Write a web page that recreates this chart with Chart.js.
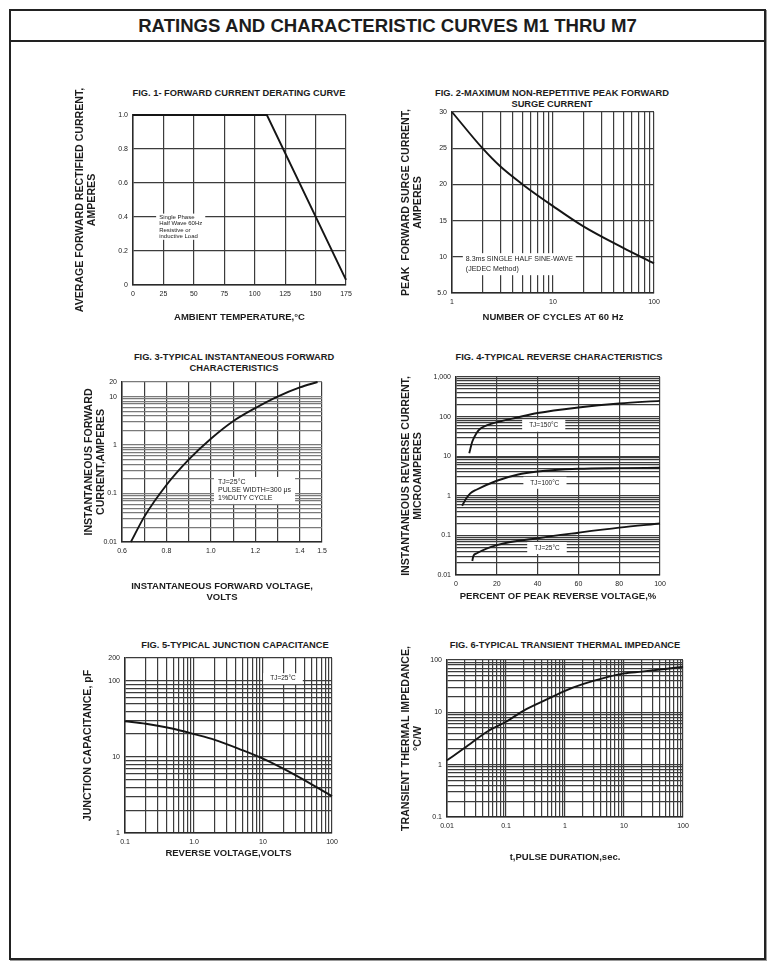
<!DOCTYPE html>
<html>
<head>
<meta charset="utf-8">
<script src="https://cdn.jsdelivr.net/npm/chart.js@4.4.1/dist/chart.umd.min.js"></script>
<style>
  body { margin: 0; background: #fff; width: 775px; height: 969px; position: relative; overflow: hidden;
         font-family: "Liberation Sans", Arial, sans-serif; color: #1c1c1c; }
  #frame { position: absolute; left: 9px; top: 9px; width: 753px; height: 947px; border: 2px solid #222;
           box-shadow: 1px 1px 0 #999; }
  #pageTitle { position: absolute; left: 0; top: 0; width: 100%; height: 29px; border-bottom: 2px solid #222;
               text-align: center; font-weight: bold; font-size: 18.6px; line-height: 29px; }
  .figTitle { position: absolute; width: 320px; text-align: center; font-weight: bold; font-size: 9.3px; line-height: 10.5px; }
  canvas { position: absolute; }
</style>
</head>
<body>
<div id="frame"><div id="pageTitle">RATINGS AND CHARACTERISTIC CURVES M1 THRU M7</div></div>

<div class="figTitle" style="left:79px;top:88px">FIG. 1- FORWARD CURRENT DERATING CURVE</div>
<div class="figTitle" style="left:392px;top:88px">FIG. 2-MAXIMUM NON-REPETITIVE PEAK FORWARD<br>SURGE CURRENT</div>
<div class="figTitle" style="left:74px;top:352px">FIG. 3-TYPICAL INSTANTANEOUS FORWARD<br>CHARACTERISTICS</div>
<div class="figTitle" style="left:399px;top:352px">FIG. 4-TYPICAL REVERSE CHARACTERISTICS</div>
<div class="figTitle" style="left:75px;top:640px">FIG. 5-TYPICAL JUNCTION CAPACITANCE</div>
<div class="figTitle" style="left:405px;top:640px">FIG. 6-TYPICAL TRANSIENT THERMAL IMPEDANCE</div>

<canvas id="fig1"></canvas>
<canvas id="fig2"></canvas>
<canvas id="fig3"></canvas>
<canvas id="fig4"></canvas>
<canvas id="fig5"></canvas>
<canvas id="fig6"></canvas>

<script>
// curve values
const deratingTemp = [0, 110, 175];
const deratingAmps = [1.0, 1.0, 0.03];

const surgeCycles = [1, 2, 3, 5, 10, 20, 50, 100];
const surgeAmps = [30, 25, 22.5, 20, 17.0, 14.2, 11.2, 9.1];

const fwdVolts = [0.64, 0.7, 0.8, 0.9, 1.0, 1.1, 1.2, 1.3, 1.4, 1.48];
const fwdAmps = [0.01, 0.033, 0.15, 0.5, 1.35, 3.1, 5.8, 10, 15.5, 20];

const revPct150 = [6.5, 8, 10, 12, 15, 20, 30, 40, 60, 80, 100];
const revUA150 = [11.9, 23.5, 38, 50, 60, 72, 95, 123, 170, 215, 250];
const revPct100 = [3, 5, 7, 10, 20, 30, 40, 60, 80, 100];
const revUA100 = [0.56, 0.85, 1.15, 1.42, 2.4, 3.4, 4.1, 4.8, 5.0, 5.1];
const revPct25 = [8, 8.5, 10, 20, 40, 60, 80, 100];
const revUA25 = [0.0226, 0.03, 0.035, 0.057, 0.085, 0.117, 0.157, 0.2];

const capVolts = [0.1, 0.2, 0.5, 1, 2, 5, 10, 20, 50, 100];
const capPF = [29.5, 27.3, 23.5, 20, 16.8, 12.3, 9.5, 6.95, 4.4, 3.05];

const pulseSec = [0.01, 0.02, 0.05, 0.1, 0.2, 0.5, 1, 2, 5, 10, 20, 50, 100];
const thermalZ = [1.21, 2.1, 4.4, 6.6, 10.8, 17.8, 25.8, 34.5, 46.6, 55.5, 60, 67.5, 74];

// tick labels
const fig1XTicks = [0, 25, 50, 75, 100, 125, 150, 175];
const fig1YTicks = [0, 0.2, 0.4, 0.6, 0.8, 1.0];
const fig1YLabels = ['0', '0.2', '0.4', '0.6', '0.8', '1.0'];
const fig2XTicks = [1, 10, 100];
const fig2YTicks = [5, 10, 15, 20, 25, 30];
const fig2YLabels = ['5.0', '10', '15', '20', '25', '30'];
const fig3XTicks = [0.6, 0.8, 1.0, 1.2, 1.4, 1.5];
const fig3XLabels = ['0.6', '0.8', '1.0', '1.2', '1.4', '1.5'];
const fig3YTicks = [0.01, 0.1, 1, 10, 20];
const fig3YLabels = ['0.01', '0.1', '1', '10', '20'];
const fig4XTicks = [0, 20, 40, 60, 80, 100];
const fig4YTicks = [0.01, 0.1, 1, 10, 100, 1000];
const fig4YLabels = ['0.01', '0.1', '1', '10', '100', '1,000'];
const fig5XTicks = [0.1, 1, 10, 100];
const fig5XLabels = ['0.1', '1.0', '10', '100'];
const fig5YTicks = [1, 10, 100, 200];
const fig6XTicks = [0.01, 0.1, 1, 10, 100];
const fig6YTicks = [0.1, 1, 10, 100];

const FONT = '"Liberation Sans", Arial, sans-serif';

function logGrid(min, max) {
  const vals = [];
  for (let e = Math.round(Math.log10(min)); Math.pow(10, e) <= max; e++) {
    for (let k = 1; k < 10; k++) {
      const v = parseFloat((k * Math.pow(10, e)).toPrecision(6));
      if (v >= min && v <= max * 1.0001) vals.push(v);
    }
  }
  return vals;
}

function linGrid(min, max, step) {
  const vals = [];
  for (let v = min; v <= max + step / 1000; v += step) vals.push(parseFloat(v.toFixed(6)));
  return vals;
}

function axis(type, min, max, gridVals, tickVals, tickLabels, title, gridColor) {
  return {
    type: type, min: min, max: max,
    afterBuildTicks: s => { s.ticks = gridVals.map(v => ({ value: v })); },
    ticks: {
      autoSkip: false, maxRotation: 0, padding: 5, color: '#222',
      font: { family: FONT, size: 7 },
      callback: v => {
        const i = tickVals.findIndex(t => Math.abs(t - v) <= 1e-6 * Math.abs(t) + 1e-12);
        if (i < 0) return '';
        return tickLabels ? tickLabels[i] : String(tickVals[i]);
      }
    },
    grid: { color: gridColor || '#3c3c3c', lineWidth: 1.2, drawTicks: false },
    border: { color: '#2a2a2a', width: 1.5 },
    title: { display: true, text: title, color: '#1c1c1c', padding: 0,
             font: { family: FONT, size: 9.5, weight: 'bold', lineHeight: 1.15 } }
  };
}

// y titles in the datasheet are set a little larger than the x titles
function yAxis(type, min, max, gridVals, tickVals, tickLabels, title, gridColor) {
  const a = axis(type, min, max, gridVals, tickVals, tickLabels, title, gridColor);
  a.title.font = { family: FONT, size: 10.6, weight: 'bold', lineHeight: 1.05 };
  return a;
}

function curve(xs, ys, straight) {
  return {
    data: xs.map((x, i) => ({ x: x, y: ys[i] })),
    showLine: true, borderColor: '#151515', borderWidth: 1.9, pointRadius: 0, clip: 3,
    cubicInterpolationMode: straight ? 'default' : 'monotone', tension: 0
  };
}

// white label boxes sitting on the grid, anchored in data units
function noteBoxes(notes) {
  return {
    id: 'noteBoxes',
    beforeDatasetsDraw(chart) {
      const ctx = chart.ctx;
      notes.forEach(n => {
        ctx.save();
        ctx.font = n.size + 'px ' + FONT;
        const lh = n.lh;
        const tw = Math.max(...n.lines.map(t => ctx.measureText(t).width));
        const bw = tw + 2 * n.padX, bh = n.lines.length * lh + 2 * n.padY;
        let x = chart.scales.x.getPixelForValue(n.x);
        let y = chart.scales.y.getPixelForValue(n.y);
        if (n.center) { x -= bw / 2; y -= bh / 2; }
        ctx.fillStyle = '#fff';
        ctx.fillRect(x, y, bw, bh);
        ctx.fillStyle = '#222';
        ctx.textBaseline = 'middle';
        ctx.textAlign = n.center ? 'center' : 'left';
        n.lines.forEach((t, i) => {
          ctx.fillText(t, n.center ? x + bw / 2 : x + n.padX, y + n.padY + lh * (i + 0.5));
        });
        ctx.restore();
      });
    }
  };
}

function makeChart(id, plot, yW, xH, padTop, xScale, yScale, datasets, notes) {
  const padRight = 14;
  const canvas = document.getElementById(id);
  const left = plot.l - yW, top = plot.t - padTop;
  const w = plot.r + padRight - left, h = plot.b + xH - top;
  canvas.width = w;
  canvas.height = h;
  canvas.style.left = left + 'px';
  canvas.style.top = top + 'px';
  canvas.style.width = w + 'px';
  canvas.style.height = h + 'px';
  xScale.afterFit = s => { s.height = xH; };
  yScale.afterFit = s => { s.width = yW; };
  return new Chart(canvas, {
    type: 'scatter',
    data: { datasets: datasets },
    options: {
      responsive: false,
      animation: false,
      layout: { padding: { top: padTop, right: padRight, left: 0, bottom: 0 } },
      plugins: { legend: { display: false }, tooltip: { enabled: false } },
      scales: { x: xScale, y: yScale }
    },
    plugins: [noteBoxes(notes || [])]
  });
}

makeChart('fig1', { l: 133, t: 115, r: 346, b: 285 }, 58, 38, 45,
  axis('linear', 0, 175, fig1XTicks, fig1XTicks, null, 'AMBIENT TEMPERATURE,°C'),
  yAxis('linear', 0, 1, fig1YTicks, fig1YTicks, fig1YLabels, ['AVERAGE FORWARD RECTIFIED CURRENT,', 'AMPERES']),
  [curve(deratingTemp, deratingAmps, true)],
  [{ x: 19, y: 0.42, lines: ['Single Phase', 'Half Wave 60Hz', 'Resistive or', 'inductive Load'],
     size: 6, lh: 6.3, padX: 3, padY: 0.5 }]);

makeChart('fig2', { l: 452, t: 112, r: 654, b: 293 }, 51, 30, 20,
  axis('logarithmic', 1, 100, logGrid(1, 100), fig2XTicks, null, 'NUMBER OF CYCLES AT 60 Hz'),
  yAxis('linear', 5, 30, fig2YTicks, fig2YTicks, fig2YLabels, ['PEAK  FORWARD SURGE CURRENT,', 'AMPERES']),
  [curve(surgeCycles, surgeAmps)],
  [{ x: 1.28, y: 10.5, lines: ['8.3ms SINGLE HALF SINE-WAVE', '(JEDEC Method)'],
     size: 7, lh: 10.5, padX: 3, padY: 0.5 }]);

makeChart('fig3', { l: 122, t: 382, r: 322, b: 542 }, 38, 61, 10,
  axis('linear', 0.6, 1.5, linGrid(0.6, 1.5, 0.1), fig3XTicks, fig3XLabels, ['INSTANTANEOUS FORWARD VOLTAGE,', 'VOLTS']),
  yAxis('logarithmic', 0.01, 20, logGrid(0.01, 20), fig3YTicks, fig3YLabels, ['INSTANTANEOUS FORWARD', 'CURRENT,AMPERES'], '#7a7a7a'),
  [curve(fwdVolts, fwdAmps)],
  [{ x: 1.014, y: 0.22, lines: ['TJ=25°C', 'PULSE WIDTH=300 μs', '1%DUTY CYCLE'],
     size: 7, lh: 8, padX: 4, padY: 1.5 }]);

makeChart('fig4', { l: 456, t: 377, r: 660, b: 575 }, 55, 27, 10,
  axis('linear', 0, 100, fig4XTicks, fig4XTicks, null, 'PERCENT OF PEAK REVERSE VOLTAGE,%'),
  yAxis('logarithmic', 0.01, 1000, logGrid(0.01, 1000), fig4YTicks, fig4YLabels, ['INSTANTANEOUS REVERSE CURRENT,', 'MICROAMPERES']),
  [curve(revPct150, revUA150), curve(revPct100, revUA100), curve(revPct25, revUA25)],
  [{ x: 43, y: 59, lines: ['TJ=150°C'], size: 6.5, lh: 8, padX: 7, padY: 2, center: true },
   { x: 43.6, y: 2.13, lines: ['TJ=100°C'], size: 6.5, lh: 8, padX: 7, padY: 2, center: true },
   { x: 44.6, y: 0.048, lines: ['TJ=25°C'], size: 6.5, lh: 8, padX: 7, padY: 2, center: true }]);

makeChart('fig5', { l: 125, t: 658, r: 332, b: 833 }, 42, 26, 10,
  axis('logarithmic', 0.1, 100, logGrid(0.1, 100), fig5XTicks, fig5XLabels, 'REVERSE VOLTAGE,VOLTS'),
  yAxis('logarithmic', 1, 200, logGrid(1, 200), fig5YTicks, null, 'JUNCTION CAPACITANCE, pF'),
  [curve(capVolts, capPF)],
  [{ x: 19.5, y: 107, lines: ['TJ=25°C'], size: 6.5, lh: 8, padX: 7, padY: 1.5, center: true }]);

makeChart('fig6', { l: 447, t: 660, r: 683, b: 817 }, 46, 46, 30,
  axis('logarithmic', 0.01, 100, logGrid(0.01, 100), fig6XTicks, null, 't,PULSE DURATION,sec.'),
  yAxis('logarithmic', 0.1, 100, logGrid(0.1, 100), fig6YTicks, null, ['TRANSIENT THERMAL IMPEDANCE,', '°C/W']),
  [curve(pulseSec, thermalZ)]);
</script>
</body>
</html>
